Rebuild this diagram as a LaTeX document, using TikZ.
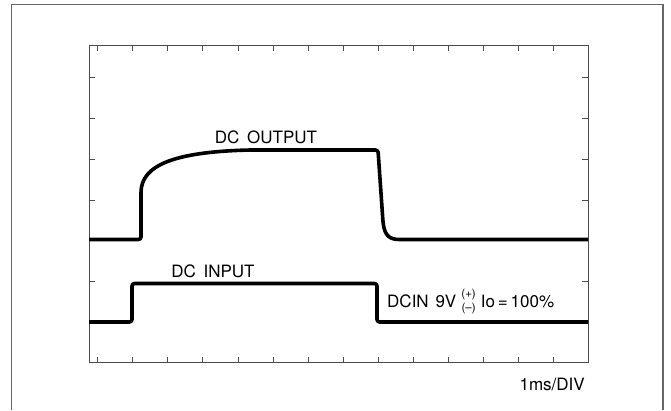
\documentclass[tikz,border=0pt]{standalone}
\usepackage{fontspec}
\setmainfont{TeX Gyre Heros}
\begin{document}
\begin{tikzpicture}[x=1pt,y=-1pt,
  frame/.style={draw=black!60,line width=1.3pt},
  grat/.style={draw=black!70,line width=1pt},
  wave/.style={line width=3.6pt,line join=round,rounded corners=2.5pt},
  lbl/.style={font=\fontsize{17}{19}\selectfont,inner sep=0pt,anchor=base}]
\useasboundingbox (0,0) rectangle (671,410);
% outer frame
\draw[frame] (11.5,410) -- (11.5,4.5) -- (663,4.5) -- (663,410);
% graticule box
\draw[grat] (89,45) rectangle (588,362.5);
\foreach \x in {97.6,132.7,...,560} {
  \draw[grat] (\x,45) -- ++(0,6);
  \draw[grat] (\x,362.5) -- ++(0,-6);
}
\foreach \y in {77,118,159,200,240.5,281,322} {
  \draw[grat] (89,\y) -- ++(6,0);
  \draw[grat] (588,\y) -- ++(-6,0);
}
% waveforms
\draw[wave] (89,239.5) -- (141,239.5) -- (141,195)
  .. controls (141,165) and (175,152) .. (250,150) -- (378,150)
  -- (383,222) .. controls (385,236) and (390,239.5) .. (402,239.5) -- (588,239.5);
\draw[wave] (89,322) -- (132,322) -- (132,283.5) -- (377,283.5) -- (377,322) -- (588,322);
% labels
\node[lbl] (out) at (266,143) {DC\hspace{0.45em}OUTPUT};
\node[lbl] (in) at (213,277) {DC\hspace{0.45em}INPUT};
\node[lbl,anchor=base west] (cond) at (387,307) {DCIN\hspace{0.4em}9V\hspace{0.3em}\raisebox{-0.5ex}{\fontsize{11.5}{9}\selectfont\shortstack{(+)\\(--)}}\hspace{0.3em}Io\,=\,100\%};
\node[lbl,anchor=base east] (div) at (585,390) {1ms/DIV};
\end{tikzpicture}
\end{document}
